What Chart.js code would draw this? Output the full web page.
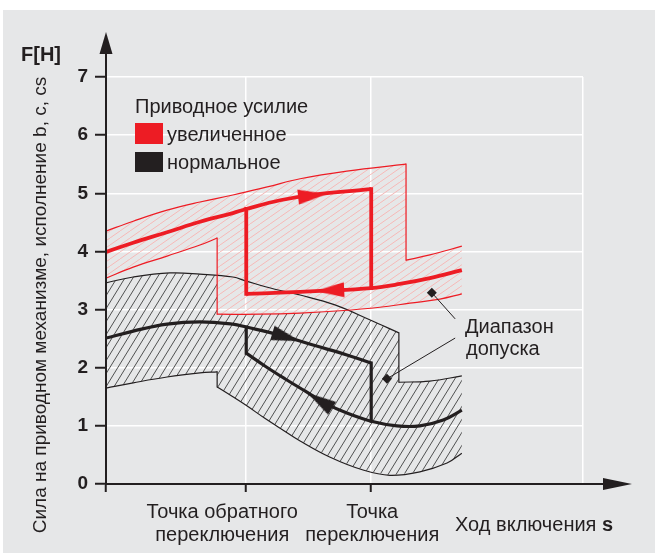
<!DOCTYPE html>
<html>
<head>
<meta charset="utf-8">
<script src="https://cdn.jsdelivr.net/npm/chart.js@4.4.1/dist/chart.umd.min.js"></script>
<style>
  body { margin: 0; background: #fff; }
  canvas { display: block; }
</style>
</head>
<body>
<canvas id="grafico" width="655" height="555"></canvas>
<script>
// ось x: ход включения в условных единицах 0..100, ось y: усилие, Н
var xMax = 100;
var yTicks = [0, 1, 2, 3, 4, 5, 6, 7];
var pontoRetorno = 29.4;    // точка обратного переключения
var pontoComutacao = 55.6;  // точка переключения

// поле допуска, увеличенное усилие (верхняя и нижняя границы, по два участка)
var redUpperAX = [0, 5.7, 12.8, 19.7, 26.6, 33.8, 40.7, 50.5, 62.9];
var redUpperAY = [4.35, 4.52, 4.71, 4.85, 4.97, 5.11, 5.25, 5.38, 5.50];
var redUpperBX = [62.9, 67.9, 74.6];
var redUpperBY = [3.85, 3.94, 4.09];
var redLowerAX = [0, 5.7, 12.8, 19.7, 23.3];
var redLowerAY = [3.54, 3.73, 3.92, 4.11, 4.23];
var redLowerBX = [23.3, 32.3, 40.7, 49.1, 57.4, 63.7, 70.0, 74.6];
var redLowerBY = [2.92, 2.92, 2.94, 2.98, 3.04, 3.11, 3.18, 3.27];

// поле допуска, нормальное усилие
var blackUpperAX = [0, 5.7, 13.4, 19.7, 26.6, 29.4, 35.4, 40.7, 48.0, 55.4, 61.4];
var blackUpperAY = [3.46, 3.56, 3.63, 3.61, 3.56, 3.49, 3.35, 3.25, 3.08, 2.82, 2.60];
var blackUpperBX = [61.4, 67.9, 74.6];
var blackUpperBY = [1.75, 1.77, 1.86];
var blackLowerAX = [0, 5.7, 12.8, 19.7, 23.3];
var blackLowerAY = [1.65, 1.74, 1.84, 1.91, 1.93];
var blackLowerBX = [23.3, 26.6, 29.6, 33.3, 36.5, 40.7, 47.0, 53.9, 59.5, 65.8, 71.5, 74.6];
var blackLowerBY = [1.67, 1.50, 1.34, 1.13, 0.96, 0.74, 0.46, 0.24, 0.15, 0.21, 0.36, 0.53];

// характеристика, увеличенное усилие: прямой ход и обратный ход
var redFwdX = [0, 5.7, 12.8, 19.7, 26.6, 29.4, 36.5, 44.9, 55.6];
var redFwdY = [3.99, 4.15, 4.33, 4.51, 4.66, 4.73, 4.88, 4.99, 5.07];
var redBackX = [29.4, 36.5, 44.9, 55.6, 61.6, 67.9, 74.6];
var redBackY = [3.27, 3.29, 3.32, 3.37, 3.44, 3.54, 3.68];

// характеристика, нормальное усилие
var blackFwdX = [0, 5.7, 12.8, 19.7, 26.6, 29.4, 36.5, 43.4, 50.5, 55.6];
var blackFwdY = [2.51, 2.63, 2.75, 2.79, 2.75, 2.70, 2.56, 2.39, 2.22, 2.08];
var blackBackX = [29.4, 33.3, 37.5, 41.7, 45.9, 50.5, 55.6, 61.0, 65.8, 70.7, 74.6];
var blackBackY = [2.25, 2.03, 1.81, 1.60, 1.39, 1.22, 1.08, 1.00, 1.00, 1.10, 1.27];

// стрелки направления: точка и направление
var redArrowX = [43.2, 47.0];
var redArrowY = [4.96, 3.33];
var redArrowToX = [55.6, 36.5];
var redArrowToY = [5.07, 3.29];
var blackArrowX = [37.7, 44.9];
var blackArrowY = [2.53, 1.43];
var blackArrowToX = [43.4, 37.5];
var blackArrowToY = [2.39, 1.81];

// выноски «Диапазон допуска»
var leaderTopX = [68.3, 73.2];
var leaderTopY = [3.29, 2.84];
var leaderBottomX = [58.9, 73.2];
var leaderBottomY = [1.81, 2.51];

var vermelho = '#ed1c24';
var escuro = '#231f20';
var cinza = '#e6e7e8';
var fonte = '"Liberation Sans", Arial, sans-serif';

var canvas = document.getElementById('grafico');
var ctx2d = canvas.getContext('2d');

function pontos(xs, ys) {
  return xs.map(function(x, i) { return {x: x, y: ys[i]}; });
}

function ultimo(arr) { return arr[arr.length - 1]; }

// замкнутый контур поля: верх слева направо, низ справа налево
function contorno(partesSup, partesInf) {
  var sup = [], inf = [];
  partesSup.forEach(function(p) { sup = sup.concat(pontos(p[0], p[1])); });
  partesInf.forEach(function(p) { inf = inf.concat(pontos(p[0], p[1])); });
  return sup.concat(inf.reverse());
}

// вертикальный скачок между концом одного участка и началом другого
function degrau(x, yA, yB) {
  return [{x: x, y: yA}, {x: x, y: yB}];
}

function hachura(cor, w, h, lw) {
  var c = document.createElement('canvas');
  c.width = w; c.height = h;
  var g = c.getContext('2d');
  g.strokeStyle = cor;
  g.lineWidth = lw;
  g.beginPath();
  for (var k = -1; k <= 1; k++) {
    g.moveTo(k * w, h);
    g.lineTo(k * w + w, 0);
  }
  g.stroke();
  return ctx2d.createPattern(c, 'repeat');
}

function ponta(cor) {
  var c = document.createElement('canvas');
  c.width = 34; c.height = 34;
  var g = c.getContext('2d');
  g.fillStyle = cor;
  g.beginPath();
  g.moveTo(32, 17);
  g.lineTo(3, 9.5);
  g.lineTo(3, 24.5);
  g.closePath();
  g.fill();
  return c;
}

function rotacao(fromX, fromY, toX, toY) {
  return function(ctx) {
    if (ctx.type !== 'data') return 0;
    var i = ctx.dataIndex;
    var sx = ctx.chart.scales.x, sy = ctx.chart.scales.y;
    var dx = sx.getPixelForValue(toX[i]) - sx.getPixelForValue(fromX[i]);
    var dy = sy.getPixelForValue(toY[i]) - sy.getPixelForValue(fromY[i]);
    return Math.atan2(dy, dx) * 180 / Math.PI;
  };
}

function curva(data, cor, largura, ordem) {
  return {
    data: data,
    borderColor: cor,
    borderWidth: largura,
    tension: 0.4,
    pointRadius: 0,
    fill: false,
    order: ordem
  };
}

function reta(data, cor, largura, ordem) {
  return {
    data: data,
    borderColor: cor,
    borderWidth: largura,
    borderCapStyle: 'square',
    tension: 0,
    pointRadius: 0,
    fill: false,
    order: ordem
  };
}

var contornoVermelho = contorno(
  [[redUpperAX, redUpperAY], [redUpperBX, redUpperBY]],
  [[redLowerAX, redLowerAY], [redLowerBX, redLowerBY]]
);
var contornoPreto = contorno(
  [[blackUpperAX, blackUpperAY], [blackUpperBX, blackUpperBY]],
  [[blackLowerAX, blackLowerAY], [blackLowerBX, blackLowerBY]]
);

var datasets = [
  // hatched bands
  {
    data: contornoPreto,
    borderWidth: 0, pointRadius: 0,
    fill: 'shape', backgroundColor: hachura('#505050', 8, 13, 1),
    order: 20
  },
  {
    id: 'mascara',
    data: contornoVermelho,
    borderWidth: 0, pointRadius: 0,
    fill: 'shape', backgroundColor: cinza,
    order: 19
  },
  {
    data: contornoVermelho,
    borderWidth: 0, pointRadius: 0,
    fill: 'shape', backgroundColor: hachura('#f6b9b7', 10, 7, 1),
    order: 18
  },

  // band outlines
  curva(pontos(blackUpperAX, blackUpperAY), escuro, 1.2, 15),
  curva(pontos(blackUpperBX, blackUpperBY), escuro, 1.2, 15),
  reta(degrau(ultimo(blackUpperAX), ultimo(blackUpperAY), blackUpperBY[0]), escuro, 1.2, 15),
  curva(pontos(blackLowerAX, blackLowerAY), escuro, 1.2, 15),
  curva(pontos(blackLowerBX, blackLowerBY), escuro, 1.2, 15),
  reta(degrau(ultimo(blackLowerAX), ultimo(blackLowerAY), blackLowerBY[0]), escuro, 1.2, 15),
  curva(pontos(redUpperAX, redUpperAY), vermelho, 1.2, 14),
  curva(pontos(redUpperBX, redUpperBY), vermelho, 1.2, 14),
  reta(degrau(ultimo(redUpperAX), ultimo(redUpperAY), redUpperBY[0]), vermelho, 1.2, 14),
  curva(pontos(redLowerAX, redLowerAY), vermelho, 1.2, 14),
  curva(pontos(redLowerBX, redLowerBY), vermelho, 1.2, 14),
  reta(degrau(ultimo(redLowerAX), ultimo(redLowerAY), redLowerBY[0]), vermelho, 1.2, 14),

  // leaders with diamond markers
  Object.assign(reta(pontos(leaderTopX, leaderTopY), escuro, 1, 12), {
    borderCapStyle: 'butt', pointRadius: [5, 0], pointStyle: 'rectRot',
    pointBackgroundColor: escuro, pointBorderWidth: 0
  }),
  Object.assign(reta(pontos(leaderBottomX, leaderBottomY), escuro, 1, 12), {
    borderCapStyle: 'butt', pointRadius: [5, 0], pointStyle: 'rectRot',
    pointBackgroundColor: escuro, pointBorderWidth: 0
  }),

  // characteristics
  curva(pontos(blackFwdX, blackFwdY), escuro, 3.2, 6),
  curva(pontos(blackBackX, blackBackY), escuro, 3.2, 6),
  reta(degrau(pontoComutacao, ultimo(blackFwdY), blackBackY[blackBackX.indexOf(pontoComutacao)]), escuro, 3.2, 6),
  reta(degrau(pontoRetorno, blackFwdY[blackFwdX.indexOf(pontoRetorno)], blackBackY[0]), escuro, 3.2, 6),
  curva(pontos(redFwdX, redFwdY), vermelho, 3.8, 5),
  curva(pontos(redBackX, redBackY), vermelho, 3.8, 5),
  reta(degrau(pontoComutacao, ultimo(redFwdY), redBackY[redBackX.indexOf(pontoComutacao)]), vermelho, 3.8, 5),
  reta(degrau(pontoRetorno, redFwdY[redFwdX.indexOf(pontoRetorno)], redBackY[0]), vermelho, 3.8, 5),

  // arrowheads
  {
    data: pontos(redArrowX, redArrowY), showLine: false,
    pointStyle: ponta(vermelho), pointRadius: 6,
    rotation: rotacao(redArrowX, redArrowY, redArrowToX, redArrowToY),
    order: 1
  },
  {
    data: pontos(blackArrowX, blackArrowY), showLine: false,
    pointStyle: ponta(escuro), pointRadius: 6,
    rotation: rotacao(blackArrowX, blackArrowY, blackArrowToX, blackArrowToY),
    order: 1
  }
];

// сетка поверх серой подложки красного поля
var gradeSobreMascara = {
  id: 'gradeSobreMascara',
  afterDatasetDraw: function(chart, args) {
    if (chart.data.datasets[args.index].id !== 'mascara') return;
    var ctx = chart.ctx, pts = args.meta.data;
    ctx.save();
    ctx.beginPath();
    pts.forEach(function(p, i) { if (i) ctx.lineTo(p.x, p.y); else ctx.moveTo(p.x, p.y); });
    ctx.closePath();
    ctx.clip();
    chart.scales.x.drawGrid(chart.chartArea);
    chart.scales.y.drawGrid(chart.chartArea);
    ctx.restore();
  }
};

var moldura = {
  id: 'moldura',
  beforeDraw: function(chart) {
    var ctx = chart.ctx;
    ctx.save();
    ctx.fillStyle = '#fff';
    ctx.fillRect(0, 0, chart.width, chart.height);
    ctx.fillStyle = cinza;
    ctx.fillRect(3, 10, chart.width - 3, chart.height - 12);
    ctx.restore();
  },
  afterDraw: function(chart) {
    var ctx = chart.ctx, a = chart.chartArea;
    var sx = chart.scales.x, sy = chart.scales.y;
    var x0 = sx.getPixelForValue(0), y0 = sy.getPixelForValue(0);
    ctx.save();

    // продолжение осей со стрелками
    ctx.strokeStyle = escuro;
    ctx.fillStyle = escuro;
    ctx.lineWidth = 2;
    ctx.beginPath();
    ctx.moveTo(x0, a.top);
    ctx.lineTo(x0, 52);
    ctx.moveTo(a.right, y0);
    ctx.lineTo(605, y0);
    ctx.stroke();
    ctx.beginPath();
    ctx.moveTo(x0, 32);
    ctx.lineTo(x0 - 6.5, 54);
    ctx.lineTo(x0 + 6.5, 54);
    ctx.closePath();
    ctx.fill();
    ctx.beginPath();
    ctx.moveTo(632, y0);
    ctx.lineTo(603, y0 - 6);
    ctx.lineTo(603, y0 + 6);
    ctx.closePath();
    ctx.fill();

    ctx.textBaseline = 'middle';
    ctx.font = 'bold 20px ' + fonte;
    ctx.textAlign = 'left';
    ctx.fillText('F[H]', 21, 55);

    ctx.font = '19px ' + fonte;
    ctx.save();
    ctx.translate(41, 305);
    ctx.rotate(-Math.PI / 2);
    ctx.textAlign = 'center';
    ctx.fillText('Сила на приводном механизме, исполнение b, c, cs', 0, 0);
    ctx.restore();

    // легенда
    ctx.font = '20px ' + fonte;
    ctx.textAlign = 'left';
    ctx.fillText('Приводное усилие', 135, 107);
    ctx.fillStyle = vermelho;
    ctx.fillRect(135, 123, 28, 21);
    ctx.fillStyle = escuro;
    ctx.fillRect(135, 152, 28, 20);
    ctx.fillText('увеличенное', 167, 135);
    ctx.fillText('нормальное', 167, 163);

    // подписи точек переключения
    ctx.textAlign = 'center';
    var xr = sx.getPixelForValue(pontoRetorno) - 24;
    var xc = sx.getPixelForValue(pontoComutacao) + 1;
    ctx.fillText('Точка обратного', xr, 512);
    ctx.fillText('переключения', xr, 535);
    ctx.fillText('Точка', xc, 512);
    ctx.fillText('переключения', xc, 535);

    ctx.textAlign = 'left';
    var t = 'Ход включения ';
    ctx.fillText(t, 455, 525);
    var w = ctx.measureText(t).width;
    ctx.font = 'bold 20px ' + fonte;
    ctx.fillText('s', 455 + w, 525);

    ctx.font = '20px ' + fonte;
    ctx.fillText('Диапазон', 465, 327);
    ctx.fillText('допуска', 466, 349);
    ctx.restore();
  }
};

new Chart(canvas, {
  type: 'line',
  data: { datasets: datasets },
  options: {
    responsive: false,
    animation: false,
    layout: { padding: { top: 77, right: 72, left: 0, bottom: 0 } },
    plugins: {
      legend: { display: false },
      tooltip: { enabled: false }
    },
    scales: {
      x: {
        type: 'linear',
        min: 0,
        max: xMax,
        afterBuildTicks: function(axis) {
          axis.ticks = [0, pontoRetorno, pontoComutacao, xMax].map(function(v) { return {value: v}; });
        },
        afterFit: function(scale) { scale.height = 71; },
        ticks: { display: false },
        grid: {
          color: '#fff',
          lineWidth: 1.5,
          tickLength: 8,
          tickWidth: 2,
          tickColor: function(c) {
            return c.tick && c.tick.value === xMax ? 'rgba(0,0,0,0)' : escuro;
          }
        },
        border: { color: escuro, width: 2, z: 1 }
      },
      y: {
        min: yTicks[0],
        max: yTicks[yTicks.length - 1],
        afterFit: function(scale) { scale.width = 106; },
        ticks: {
          stepSize: 1,
          padding: 7,
          color: escuro,
          font: { family: fonte, size: 19, weight: 'bold' }
        },
        grid: {
          color: '#fff',
          lineWidth: 1.5,
          tickLength: 11,
          tickWidth: 2,
          tickColor: escuro
        },
        border: { color: escuro, width: 2, z: 1 }
      }
    }
  },
  plugins: [moldura, gradeSobreMascara]
});
</script>
</body>
</html>
